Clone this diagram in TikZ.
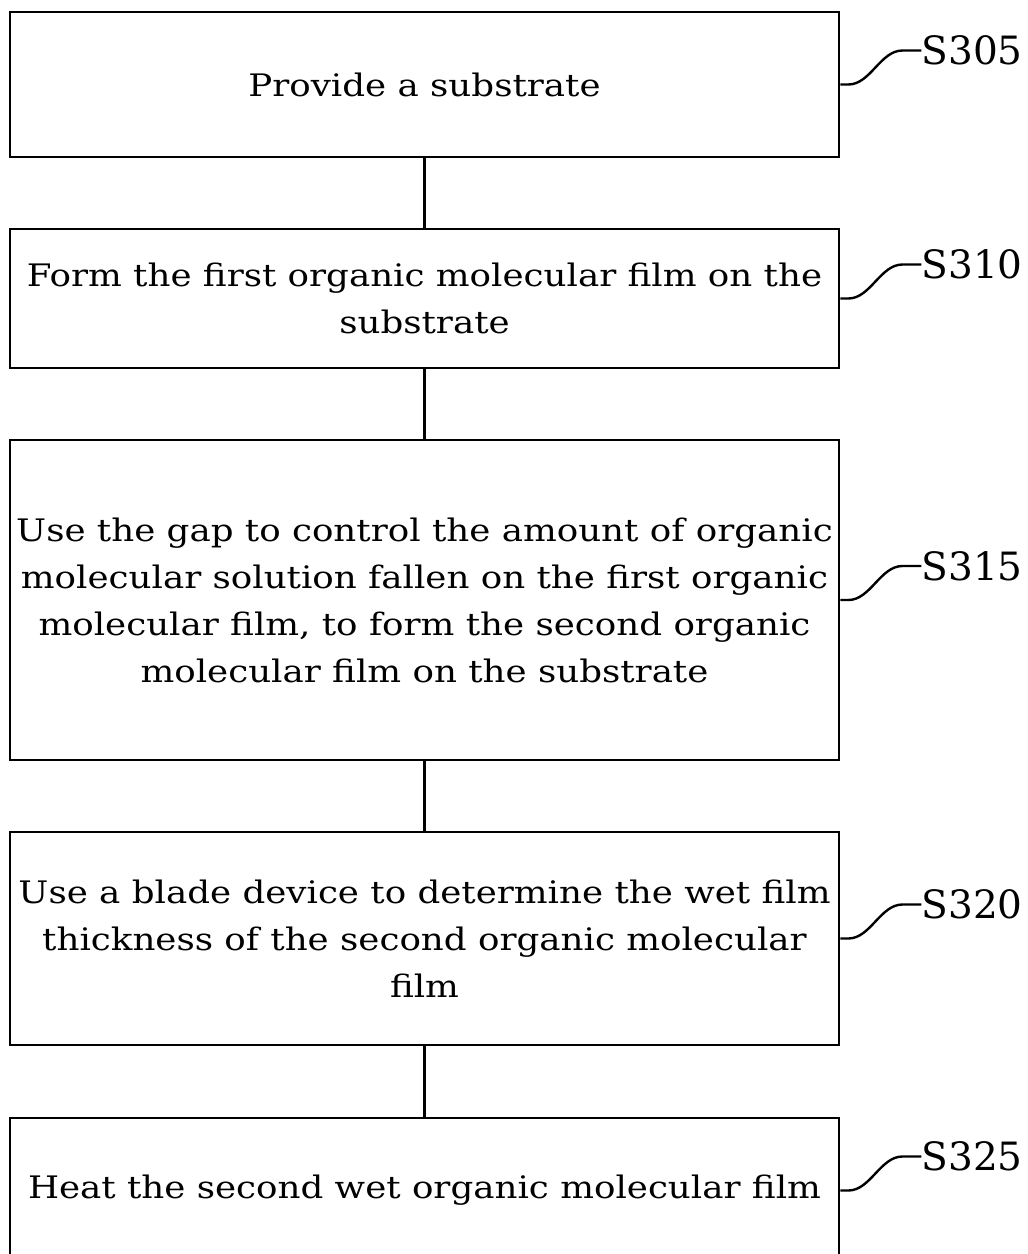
\documentclass[tikz,border=0pt]{standalone}
\usepackage{fontspec}
\setmainfont{DejaVu Serif}[FakeStretch=1.15]
\newfontfamily\labfont{DejaVu Serif}
\usetikzlibrary{calc}
\tikzset{
  stepbox/.style={draw, line width=2.8pt, minimum width=829pt, inner sep=0pt,
    align=center, font=\fontsize{31}{47}\selectfont},
  steplabel/.style={anchor=west, inner sep=0pt, font=\labfont\fontsize{39}{42}\selectfont},
  link/.style={line width=2.4pt},
  lead/.style={line width=2.4pt},
}
\begin{document}
\begin{tikzpicture}[x=1pt, y=-1pt]
  \useasboundingbox (0,0) rectangle (1028,1254);
  \clip (0,0) rectangle (1028,1254);

  % process steps
  \node[stepbox, minimum height=145pt] (b1) at (424.5,84.5) {Provide a substrate};
  \node[stepbox, minimum height=139pt] (b2) at (424.5,298.5)
    {Form the first organic molecular film on the\\substrate};
  \node[stepbox, minimum height=320pt] (b3) at (424.5,600)
    {Use the gap to control the amount of organic\\molecular solution fallen on the first organic\\molecular film, to form the second organic\\molecular film on the substrate};
  \node[stepbox, minimum height=213pt] (b4) at (424.5,938.5)
    {Use a blade device to determine the wet film\\thickness of the second organic molecular\\film};
  \node[stepbox, minimum height=145pt] (b5) at (424.5,1190.5)
    {Heat the second wet organic molecular film};

  % flow between steps
  \draw[link] (b1.south) -- (b2.north);
  \draw[link] (b2.south) -- (b3.north);
  \draw[link] (b3.south) -- (b4.north);
  \draw[link] (b4.south) -- (b5.north);

  % step labels with leader curves
  \foreach \b/\t in {b1/S305, b2/S310, b3/S315, b4/S320, b5/S325}{
    \node[steplabel] (l\t) at ($(\b.east)+(81,-34)$) {\t};
    \draw[lead] (\b.east) -- ++(8,0)
      .. controls +(22,0) and +(-22,0) .. ++(54,-34) -- (l\t.west);
  }
\end{tikzpicture}
\end{document}
